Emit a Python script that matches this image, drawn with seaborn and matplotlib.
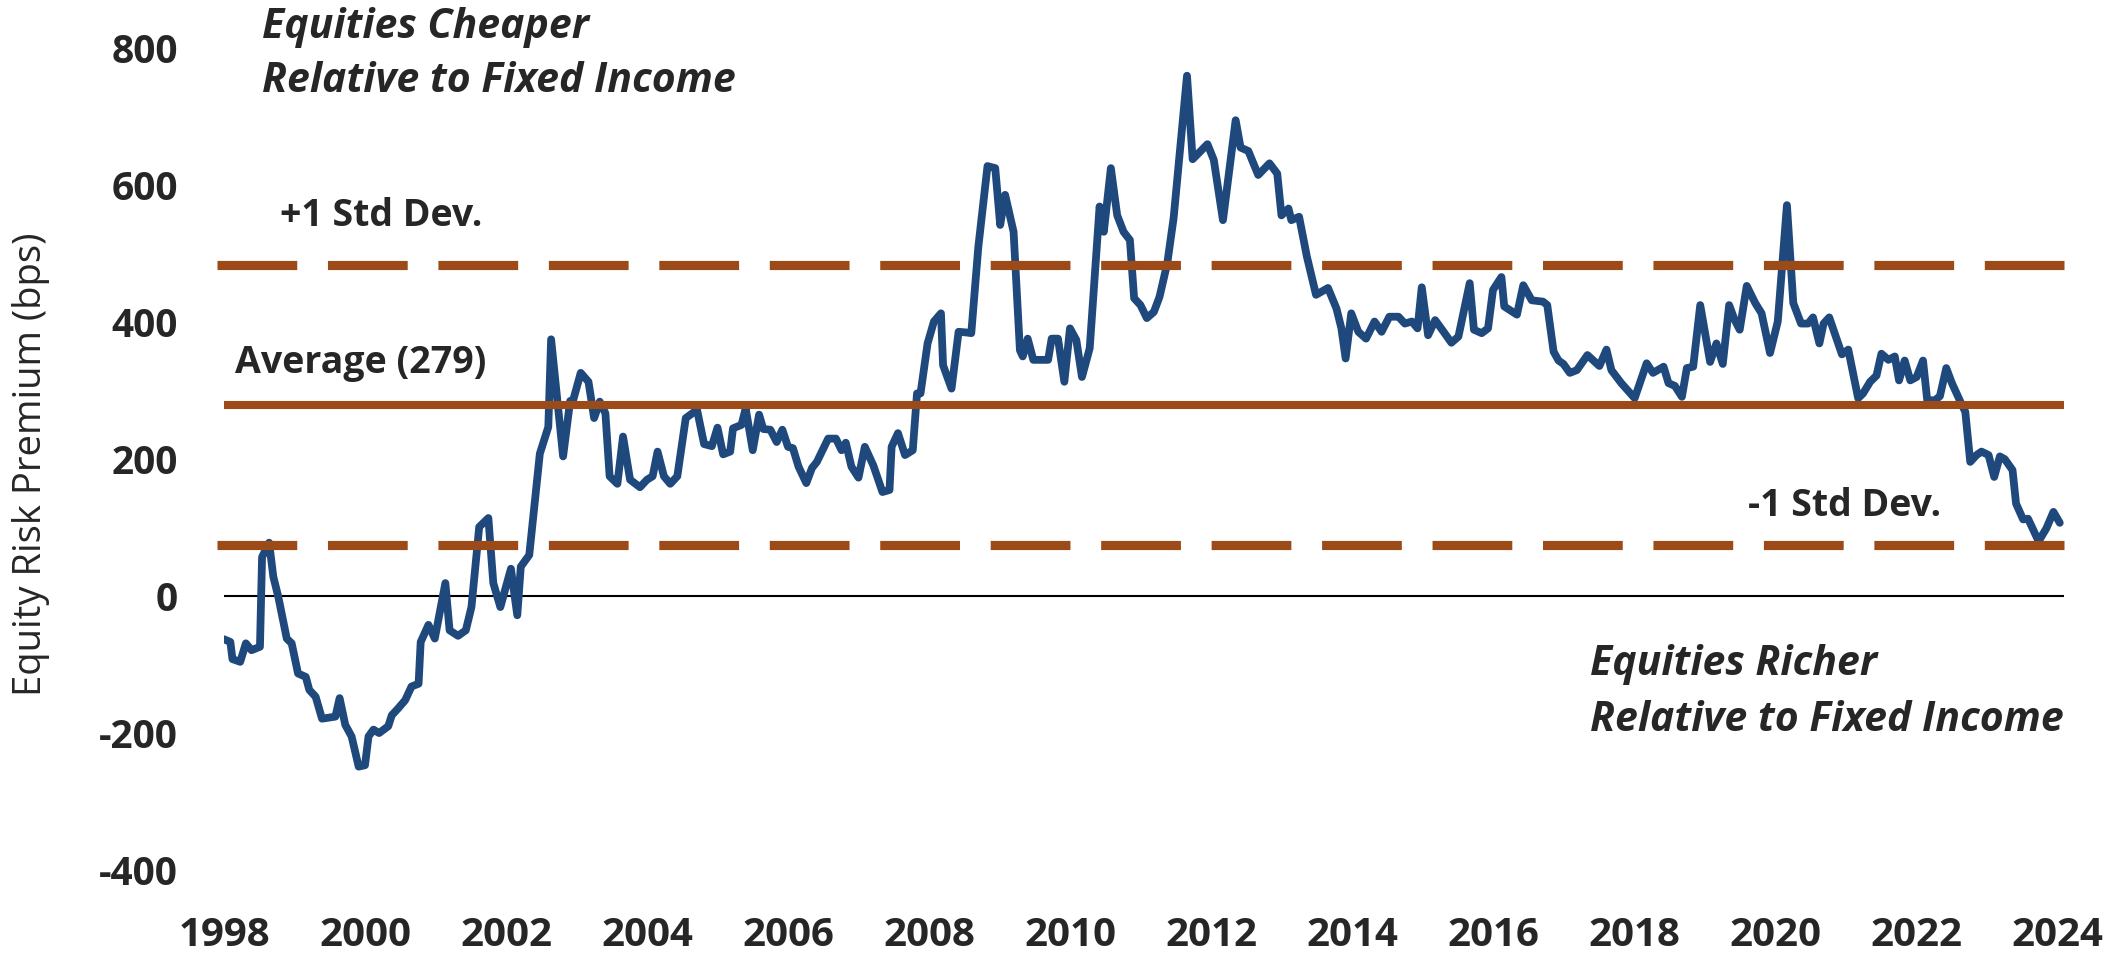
import matplotlib
matplotlib.use("Agg")
import matplotlib.pyplot as plt
import seaborn as sns
import pandas as pd

# Equity risk premium (bps), dates in decimal years
dates = [
    1998.00, 1998.09, 1998.12, 1998.23, 1998.31, 1998.39, 1998.51, 1998.54, 1998.64, 1998.70,
    1998.77, 1998.89, 1998.96, 1999.05, 1999.16, 1999.21, 1999.30, 1999.39, 1999.58, 1999.64,
    1999.72, 1999.81, 1999.91, 2000.00, 2000.05, 2000.12, 2000.20, 2000.33, 2000.38, 2000.47,
    2000.57, 2000.66, 2000.76, 2000.79, 2000.90, 2000.99, 2001.14, 2001.20, 2001.32, 2001.43,
    2001.51, 2001.62, 2001.75, 2001.82, 2001.92, 2002.07, 2002.16, 2002.21, 2002.33, 2002.48,
    2002.60, 2002.64, 2002.81, 2002.91, 2002.95, 2003.06, 2003.17, 2003.25, 2003.33, 2003.41,
    2003.47, 2003.58, 2003.66, 2003.76, 2003.90, 2004.00, 2004.08, 2004.15, 2004.24, 2004.33,
    2004.43, 2004.55, 2004.71, 2004.81, 2004.92, 2005.00, 2005.08, 2005.18, 2005.22, 2005.34,
    2005.40, 2005.50, 2005.59, 2005.65, 2005.75, 2005.84, 2005.92, 2006.00, 2006.07, 2006.15,
    2006.26, 2006.34, 2006.41, 2006.57, 2006.68, 2006.76, 2006.82, 2006.90, 2007.00, 2007.09,
    2007.21, 2007.34, 2007.44, 2007.47, 2007.56, 2007.66, 2007.77, 2007.83, 2007.88, 2007.98,
    2008.07, 2008.17, 2008.20, 2008.32, 2008.42, 2008.53, 2008.60, 2008.70, 2008.76, 2008.83,
    2008.94, 2009.01, 2009.08, 2009.20, 2009.29, 2009.33, 2009.40, 2009.48, 2009.69, 2009.74,
    2009.83, 2009.92, 2010.00, 2010.09, 2010.17, 2010.28, 2010.42, 2010.48, 2010.58, 2010.67,
    2010.76, 2010.85, 2010.91, 2011.00, 2011.09, 2011.19, 2011.27, 2011.38, 2011.47, 2011.66,
    2011.74, 2011.95, 2012.04, 2012.17, 2012.35, 2012.42, 2012.53, 2012.67, 2012.83, 2012.94,
    2013.00, 2013.10, 2013.14, 2013.25, 2013.36, 2013.49, 2013.66, 2013.78, 2013.85, 2013.91,
    2013.99, 2014.09, 2014.20, 2014.32, 2014.42, 2014.53, 2014.66, 2014.75, 2014.85, 2014.93,
    2014.99, 2015.08, 2015.18, 2015.30, 2015.41, 2015.51, 2015.67, 2015.73, 2015.84, 2015.93,
    2016.00, 2016.12, 2016.16, 2016.34, 2016.43, 2016.55, 2016.71, 2016.77, 2016.86, 2016.93,
    2017.00, 2017.09, 2017.19, 2017.34, 2017.51, 2017.61, 2017.68, 2017.82, 2018.01, 2018.18,
    2018.27, 2018.42, 2018.49, 2018.58, 2018.68, 2018.75, 2018.84, 2018.94, 2019.08, 2019.17,
    2019.26, 2019.35, 2019.43, 2019.50, 2019.60, 2019.72, 2019.81, 2019.93, 2020.04, 2020.17,
    2020.26, 2020.37, 2020.47, 2020.54, 2020.63, 2020.69, 2020.77, 2020.88, 2020.95, 2021.04,
    2021.18, 2021.25, 2021.35, 2021.44, 2021.51, 2021.61, 2021.70, 2021.76, 2021.84, 2021.92,
    2022.01, 2022.10, 2022.16, 2022.27, 2022.34, 2022.43, 2022.51, 2022.63, 2022.70, 2022.77,
    2022.86, 2022.93, 2023.03, 2023.11, 2023.19, 2023.26, 2023.37, 2023.42, 2023.52, 2023.59,
    2023.74, 2023.85, 2023.95, 2024.04,
]
erp = [
    -63, -67, -92, -96, -69, -79, -74, 57, 78, 28,
    -1, -62, -69, -113, -118, -137, -147, -179, -176, -149,
    -188, -205, -249, -247, -205, -195, -200, -190, -174, -164,
    -152, -132, -128, -67, -42, -62, 19, -50, -58, -50,
    -16, 101, 114, 19, -16, 40, -28, 43, 60, 208,
    247, 375, 204, 285, 285, 326, 313, 260, 284, 267,
    175, 164, 233, 170, 159, 170, 175, 211, 175, 164,
    175, 260, 272, 222, 219, 246, 207, 211, 245, 250,
    274, 213, 265, 244, 243, 225, 243, 218, 216, 189,
    165, 187, 196, 230, 230, 213, 224, 189, 173, 218,
    191, 152, 155, 218, 238, 206, 213, 296, 296, 369,
    401, 413, 337, 303, 386, 385, 384, 510, 564, 628,
    625, 542, 586, 532, 359, 350, 376, 345, 345, 376,
    376, 313, 391, 374, 320, 362, 569, 532, 625, 556,
    532, 520, 435, 425, 406, 415, 437, 486, 552, 760,
    638, 660, 637, 549, 695, 655, 650, 615, 632, 617,
    556, 566, 549, 554, 496, 440, 450, 420, 391, 347,
    413, 386, 376, 401, 386, 408, 408, 398, 401, 391,
    451, 381, 403, 386, 370, 379, 457, 389, 384, 391,
    447, 466, 423, 411, 454, 432, 430, 425, 357, 344,
    339, 326, 330, 352, 336, 360, 330, 311, 289, 340,
    326, 335, 311, 307, 291, 333, 335, 425, 342, 369,
    339, 425, 403, 389, 453, 428, 413, 355, 401, 571,
    428, 398, 398, 407, 369, 398, 407, 374, 353, 360,
    289, 296, 313, 322, 354, 345, 350, 315, 344, 315,
    320, 344, 286, 286, 292, 333, 311, 284, 269, 196,
    206, 211, 206, 174, 204, 200, 184, 135, 112, 113,
    80, 99, 123, 107,
]

avg_erp = 279
std_up = 484
std_down = 74

x_ticks = list(range(1998, 2025, 2))
y_ticks = list(range(-400, 801, 200))

BLUE = "#1F497D"
BROWN = "#9C4A17"

sns.set_style("white")
plt.rcParams['font.family'] = ['Open Sans', 'DejaVu Sans']

W, H = 2111, 955
fig = plt.figure(figsize=(W / 100, H / 100), dpi=100)
ax = fig.add_axes([224 / W, 1 - 870 / H, (2064 - 224) / W, (870 - 48.3) / H])

df = pd.DataFrame({'date': dates, 'erp': erp})
ax.axhline(0, color='black', lw=1.5, zorder=1)
sns.lineplot(data=df, x='date', y='erp', ax=ax, color=BLUE, lw=5.6,
             sort=False, estimator=None, zorder=2,
             solid_joinstyle='round', solid_capstyle='round')
ax.axhline(avg_erp, color=BROWN, lw=5.8, zorder=3)
for lvl in (std_up, std_down):
    ax.axhline(lvl, color=BROWN, lw=6.6, ls=(0, (8.7, 3.35)), zorder=3,
               xmin=-0.004, clip_on=False)

ax.set_xlim(1998, 2024.1)
ax.set_ylim(-400, 800)
ax.set_xticks(x_ticks)
ax.set_yticks(y_ticks)
ax.set_xticklabels([str(t) for t in x_ticks])
ax.set_yticklabels([str(t) for t in y_ticks])
ax.tick_params(axis='x', length=0, labelsize=29, pad=33)
ax.tick_params(axis='y', length=0, labelsize=28, pad=33)
for lab in ax.get_xticklabels() + ax.get_yticklabels():
    lab.set_fontweight('bold')
for s in ax.spines.values():
    s.set_visible(False)
ax.grid(False)
ax.set_xlabel('')
ax.set_ylabel('')

def px(x, y):
    return x / W, 1 - y / H

fig.text(*px(31, 464), 'Equity Risk Premium (bps)', rotation=90,
         ha='center', va='center', fontsize=27.5)

fig.text(*px(280, 226), '+1 Std Dev.', fontsize=27, fontweight='bold', va='baseline')
fig.text(*px(235, 373), 'Average (279)', fontsize=27, fontweight='bold', va='baseline')
fig.text(*px(1748, 516), '-1 Std Dev.', fontsize=27, fontweight='bold', va='baseline')

fig.text(*px(262, 38), 'Equities Cheaper', fontsize=29.5, fontweight='bold',
         style='italic', va='baseline')
fig.text(*px(262, 92), 'Relative to Fixed Income', fontsize=29.5, fontweight='bold',
         style='italic', va='baseline')
fig.text(*px(1590, 675), 'Equities Richer', fontsize=29.5, fontweight='bold',
         style='italic', va='baseline')
fig.text(*px(1590, 731), 'Relative to Fixed Income', fontsize=29.5, fontweight='bold',
         style='italic', va='baseline')

fig.savefig('out.png', dpi=100)
